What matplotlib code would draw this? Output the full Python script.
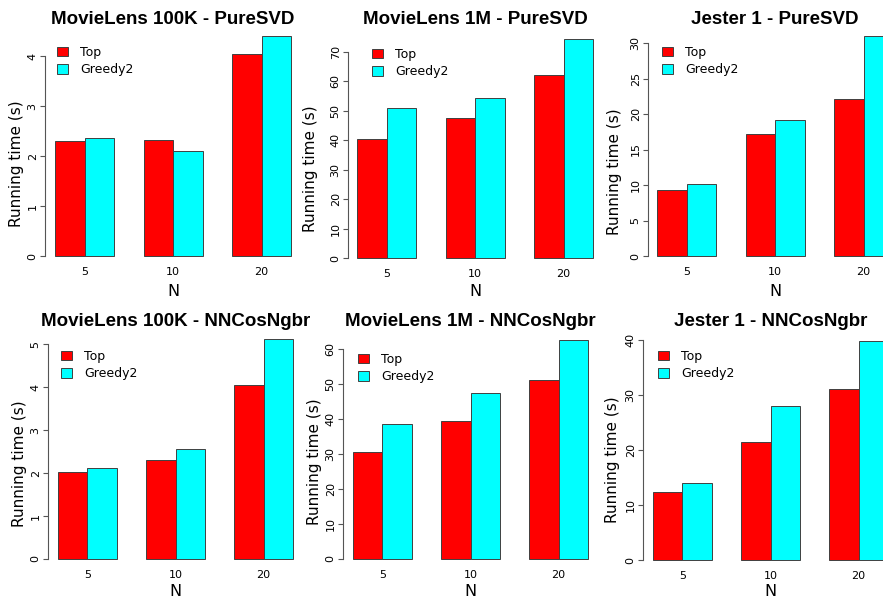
import matplotlib.pyplot as plt
from matplotlib.patches import Patch
import numpy as np

# values (running time in seconds)
n_labels = ['5', '10', '20']
series_names = ['Top', 'Greedy2']
titles = ['MovieLens 100K - PureSVD', 'MovieLens 1M - PureSVD', 'Jester 1 - PureSVD',
          'MovieLens 100K - NNCosNgbr', 'MovieLens 1M - NNCosNgbr', 'Jester 1 - NNCosNgbr']

ml100k_svd_top = [2.30, 2.32, 4.05]
ml100k_svd_greedy = [2.37, 2.11, 4.40]
ml1m_svd_top = [40.5, 47.6, 62.3]
ml1m_svd_greedy = [51.1, 54.2, 74.5]
jester_svd_top = [9.3, 17.15, 22.1]
jester_svd_greedy = [10.1, 19.2, 31.0]
ml100k_nn_top = [2.02, 2.31, 4.04]
ml100k_nn_greedy = [2.11, 2.56, 5.11]
ml1m_nn_top = [30.5, 39.3, 51.2]
ml1m_nn_greedy = [38.5, 47.3, 62.7]
jester_nn_top = [12.4, 21.5, 31.1]
jester_nn_greedy = [14.0, 28.0, 39.9]

y_ticks = [np.arange(0, 5, 1), np.arange(0, 71, 10), np.arange(0, 31, 5),
           np.arange(0, 6, 1), np.arange(0, 61, 10), np.arange(0, 41, 10)]

data = [(ml100k_svd_top, ml100k_svd_greedy), (ml1m_svd_top, ml1m_svd_greedy),
        (jester_svd_top, jester_svd_greedy), (ml100k_nn_top, ml100k_nn_greedy),
        (ml1m_nn_top, ml1m_nn_greedy), (jester_nn_top, jester_nn_greedy)]

# panel layout in pixels: axis x, zero y, top tick y, bars left/right, title y, N y,
# ylabel centre (x, y), legend top-left (x, y)
layout = [
    dict(ax_x=45, y0=256, ytop=56, bl=55, br=291, ty=19, ny=292, yl=(16.5, 164), lg=(57, 46)),
    dict(ax_x=348, y0=258, ytop=52, bl=357, br=593, ty=19, ny=292, yl=(311, 169), lg=(372, 48)),
    dict(ax_x=648, y0=256, ytop=43, bl=657, br=893, ty=19, ny=292, yl=(614, 172), lg=(662, 46)),
    dict(ax_x=48, y0=559, ytop=344, bl=58, br=293, ty=321, ny=591, yl=(20, 464), lg=(61, 350)),
    dict(ax_x=343, y0=559, ytop=349, bl=353, br=588, ty=321, ny=591, yl=(315, 462), lg=(358, 353)),
    dict(ax_x=643, y0=560, ytop=340, bl=653, br=888, ty=321, ny=591, yl=(613, 460), lg=(658, 350)),
]

W, H = 883, 603
fig = plt.figure(figsize=(W / 100, H / 100), dpi=100)

def fx(px):
    return px / W

def fy(py):
    return 1 - py / H

colors = ['#ff0000', '#00ffff']
edge = '#404040'
axis_col = '#555555'

for i, (lay, (top, greedy)) in enumerate(zip(layout, data)):
    ax = fig.add_axes([fx(lay['ax_x']), fy(lay['y0']),
                       (lay['br'] - lay['ax_x']) / W, (lay['y0'] - lay['ytop']) / H])
    ppu = (lay['br'] - lay['bl']) / 8.0
    ax.set_xlim(1 - (lay['bl'] - lay['ax_x']) / ppu, 9)
    ax.set_ylim(0, y_ticks[i][-1])

    groups = np.arange(3) * 3
    ax.bar(groups + 1.5, top, width=1, color=colors[0], edgecolor=edge, linewidth=0.7, clip_on=False)
    ax.bar(groups + 2.5, greedy, width=1, color=colors[1], edgecolor=edge, linewidth=0.7, clip_on=False)

    for s in ['top', 'right', 'bottom']:
        ax.spines[s].set_visible(False)
    ax.spines['left'].set_color(axis_col)
    ax.spines['left'].set_linewidth(0.8)
    ax.patch.set_alpha(0)

    ax.set_xticks(groups + 2, n_labels)
    ax.tick_params(axis='x', length=0, pad=8, labelsize=8)
    ax.set_yticks(y_ticks[i], [str(v) for v in y_ticks[i]], rotation=90, va='center')
    ax.tick_params(axis='y', length=3.6, width=0.8, color=axis_col, pad=1.7, labelsize=8)

    cx = (lay['bl'] + lay['br']) / 2
    fig.text(fx(cx), fy(lay['ty']), titles[i], ha='center', va='center',
             fontsize=13.5, fontweight='bold', family='Liberation Sans')
    fig.text(fx(cx), fy(lay['ny']), 'N', ha='center', va='center', fontsize=11.5)
    fig.text(fx(lay['yl'][0]), fy(lay['yl'][1]), 'Running time (s)', rotation=90,
             ha='center', va='center', fontsize=11)

    handles = [Patch(facecolor=c, edgecolor=edge, linewidth=0.7) for c in colors]
    ax.legend(handles, series_names, loc='upper left',
              bbox_to_anchor=(fx(lay['lg'][0]), fy(lay['lg'][1])), bbox_transform=fig.transFigure,
              frameon=False, borderpad=0, borderaxespad=0, handlelength=0.85, handleheight=0.8,
              handletextpad=1.0, labelspacing=0.35, fontsize=9)

fig.savefig('out.png', dpi=100)
